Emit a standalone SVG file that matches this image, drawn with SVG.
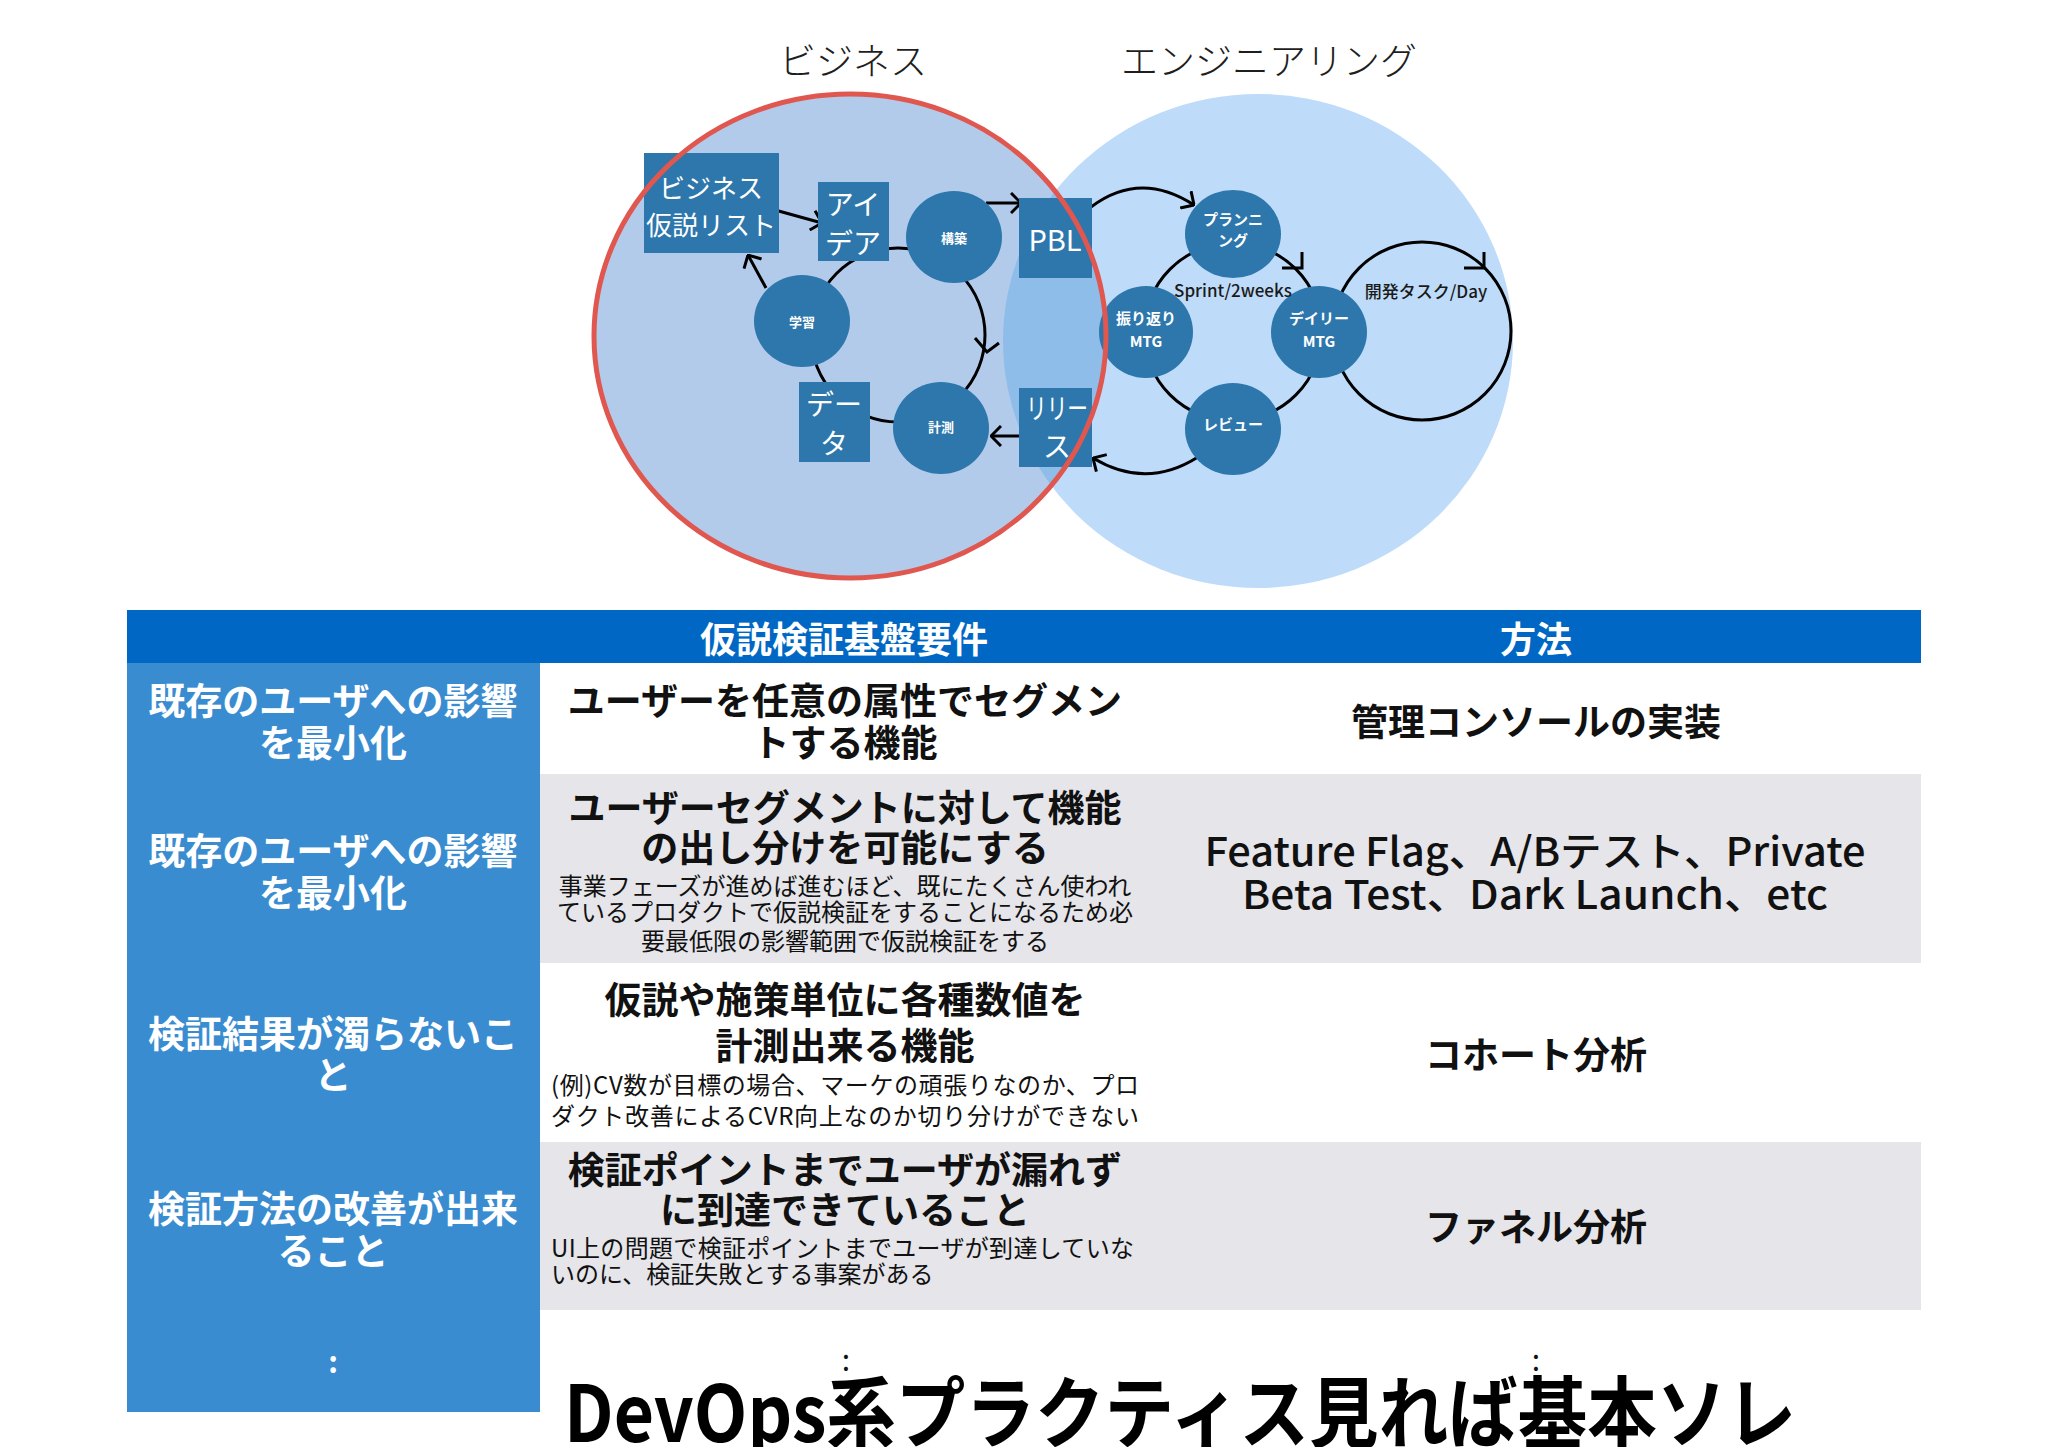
<svg xmlns="http://www.w3.org/2000/svg" width="2048" height="1447" viewBox="0 0 2048 1447">
<style>
text{font-family:"Noto Sans CJK JP","Liberation Sans",sans-serif;dominant-baseline:central;text-anchor:middle}
.title{font-size:37px;fill:#1e1e1e;font-weight:300}
.node{fill:#2d77ac}
.nt{fill:#fff}
.big{font-size:28px}
.sm{font-size:13px;font-weight:700}
.md{font-size:15px;font-weight:700}
.lbl{font-size:17px;font-weight:500;fill:#1a1a1a}
.conn{fill:none;stroke:#000;stroke-width:3}
.hdr{font-size:36px;font-weight:700;fill:#fff}
.lc{font-size:37px;font-weight:700;fill:#fff}
.c2{font-size:37px;font-weight:700;fill:#111}
.note{font-size:24px;fill:#111}
.c3{font-size:37px;font-weight:700;fill:#111}
.lat{font-size:40px;font-weight:500;fill:#111}
</style>
<defs>
<marker id="ah" viewBox="0 0 12 22" refX="11" refY="11" markerWidth="12" markerHeight="22" markerUnits="userSpaceOnUse" orient="auto">
<path d="M1,1 L11,11 L1,21" fill="none" stroke="#000" stroke-width="3"/>
</marker>
<clipPath id="engClip"><ellipse cx="1258" cy="341" rx="255" ry="247"/></clipPath>
</defs>
<rect width="2048" height="1447" fill="#fff"/>

<text class="title" x="853" y="59">ビジネス</text>
<text class="title" x="1269" y="59">エンジニアリング</text>

<g id="areas">
<ellipse cx="1258" cy="341" rx="255" ry="247" fill="#bedcf9"/>
<ellipse cx="850" cy="336" rx="256" ry="242" fill="#b3cbea"/>
<ellipse cx="850" cy="336" rx="256" ry="242" fill="#8fbde9" clip-path="url(#engClip)"/>
</g>

<g id="connectors">
<circle class="conn" cx="898" cy="335" r="87"/>
<path class="conn" d="M975,338 L987,352 L999,343"/>
<circle class="conn" cx="1233" cy="332" r="89"/>
<path class="conn" d="M1302,252 L1302,268 L1282,268"/>
<circle class="conn" cx="1422" cy="331" r="89"/>
<path class="conn" d="M1484,252 L1484,268 L1464,268"/>
<line class="conn" x1="775" y1="210" x2="822" y2="223" marker-end="url(#ah)"/>
<line class="conn" x1="986" y1="203" x2="1021" y2="203" marker-end="url(#ah)"/>
<line class="conn" x1="766" y1="288" x2="748" y2="255" marker-end="url(#ah)"/>
<line class="conn" x1="1019" y1="436" x2="991" y2="436" marker-end="url(#ah)"/>
<path class="conn" d="M1091,207 Q1140,170 1194,205" marker-end="url(#ah)"/>
<path class="conn" d="M1198,457 Q1146,490 1093,458" marker-end="url(#ah)"/>
</g>

<g id="n-hypothesis"><rect class="node" x="644" y="153" width="135" height="100"/>
<text class="nt" x="711" y="186" style="font-size:26px">ビジネス</text>
<text class="nt" x="711" y="223" style="font-size:26px">仮説リスト</text></g>
<g id="n-idea"><rect class="node" x="818" y="182" width="71" height="79"/>
<text class="nt big" x="853" y="203">アイ</text>
<text class="nt big" x="853" y="242">デア</text></g>
<g id="n-build"><ellipse class="node" cx="954" cy="237" rx="48" ry="46"/>
<text class="nt sm" x="954" y="237">構築</text></g>
<g id="n-pbl"><rect class="node" x="1019" y="198" width="73" height="80"/>
<text class="nt" x="1055" y="238" style="font-size:29px">PBL</text></g>
<g id="n-learn"><ellipse class="node" cx="802" cy="321" rx="48" ry="46"/>
<text class="nt sm" x="802" y="321">学習</text></g>
<g id="n-data"><rect class="node" x="799" y="382" width="71" height="80"/>
<text class="nt big" x="834" y="403">デー</text>
<text class="nt big" x="834" y="442">タ</text></g>
<g id="n-measure"><ellipse class="node" cx="941" cy="428" rx="48" ry="46"/>
<text class="nt sm" x="941" y="426">計測</text></g>
<g id="n-release"><rect class="node" x="1019" y="388" width="73" height="79"/>
<text class="nt big" x="1057" y="407" textLength="62" lengthAdjust="spacingAndGlyphs">リリー</text>
<text class="nt big" x="1057" y="445">ス</text></g>
<g id="n-planning"><ellipse class="node" cx="1233" cy="234" rx="48" ry="44"/>
<text class="nt md" x="1233" y="218">プランニ</text>
<text class="nt md" x="1233" y="239">ング</text></g>
<g id="n-retro"><ellipse class="node" cx="1146" cy="332" rx="47" ry="46"/>
<text class="nt md" x="1146" y="317">振り返り</text>
<text class="nt md" x="1146" y="340">MTG</text></g>
<g id="n-daily"><ellipse class="node" cx="1319" cy="332" rx="48" ry="46"/>
<text class="nt md" x="1319" y="317">デイリー</text>
<text class="nt md" x="1319" y="340">MTG</text></g>
<g id="n-review"><ellipse class="node" cx="1233" cy="429" rx="48" ry="46"/>
<text class="nt md" x="1233" y="423">レビュー</text></g>

<text class="lbl" x="1233" y="289">Sprint/2weeks</text>
<text class="lbl" x="1426" y="290">開発タスク/Day</text>

<ellipse id="business-ring" cx="850" cy="336" rx="256" ry="242" fill="none" stroke="#e0574f" stroke-width="5"/>

<g id="table">
<rect x="127" y="610" width="1794" height="53" fill="#0068c4"/>
<rect x="127" y="663" width="413" height="749" fill="#3a8cd0"/>
<rect x="540" y="774" width="1381" height="189" fill="#e5e5ea"/>
<rect x="540" y="1142" width="1381" height="168" fill="#e5e5ea"/>
<text class="hdr" x="844" y="637">仮説検証基盤要件</text>
<text class="hdr" x="1536" y="637">方法</text>

<text class="lc" x="333" y="699">既存のユーザへの影響</text>
<text class="lc" x="333" y="741">を最小化</text>
<text class="lc" x="333" y="849">既存のユーザへの影響</text>
<text class="lc" x="333" y="891">を最小化</text>
<text class="lc" x="333" y="1032">検証結果が濁らないこ</text>
<text class="lc" x="333" y="1073">と</text>
<text class="lc" x="333" y="1207">検証方法の改善が出来</text>
<text class="lc" x="333" y="1249">ること</text>
<text class="lc" x="333" y="1360" style="font-size:30px">:</text>

<text class="c2" x="845" y="699">ユーザーを任意の属性でセグメン</text>
<text class="c2" x="845" y="741">トする機能</text>
<text class="c2" x="845" y="806">ユーザーセグメントに対して機能</text>
<text class="c2" x="845" y="846">の出し分けを可能にする</text>
<text class="note" x="845" y="884">事業フェーズが進めば進むほど、既にたくさん使われ</text>
<text class="note" x="845" y="910">ているプロダクトで仮説検証をすることになるため必</text>
<text class="note" x="845" y="939">要最低限の影響範囲で仮説検証をする</text>
<text class="c2" x="845" y="998">仮説や施策単位に各種数値を</text>
<text class="c2" x="845" y="1044">計測出来る機能</text>
<text class="note" x="551" y="1083" style="text-anchor:start" textLength="588" lengthAdjust="spacing">(例)CV数が目標の場合、マーケの頑張りなのか、プロ</text>
<text class="note" x="551" y="1114" style="text-anchor:start" textLength="588" lengthAdjust="spacing">ダクト改善によるCVR向上なのか切り分けができない</text>
<text class="c2" x="845" y="1168">検証ポイントまでユーザが漏れず</text>
<text class="c2" x="845" y="1208">に到達できていること</text>
<text class="note" x="551" y="1246" style="text-anchor:start" textLength="583" lengthAdjust="spacing">UI上の問題で検証ポイントまでユーザが到達していな</text>
<text class="note" x="551" y="1272" style="text-anchor:start">いのに、検証失敗とする事案がある</text>

<text class="c3" x="1536" y="720">管理コンソールの実装</text>
<text class="lat" x="1535" y="849" textLength="661" lengthAdjust="spacingAndGlyphs">Feature Flag、A/Bテスト、Private</text>
<text class="lat" x="1535" y="892" textLength="586" lengthAdjust="spacingAndGlyphs">Beta Test、Dark Launch、etc</text>
<text class="c3" x="1536" y="1053">コホート分析</text>
<text class="c3" x="1536" y="1225">ファネル分析</text>
</g>

<text x="846" y="1358" style="font-size:30px;fill:#111">:</text>
<text x="1536" y="1358" style="font-size:30px;fill:#111">:</text>
<text x="564" y="1408" style="text-anchor:start;font-size:78px;font-weight:700;fill:#000" textLength="1232" lengthAdjust="spacingAndGlyphs">DevOps系プラクティス見れば基本ソレ</text>
</svg>
